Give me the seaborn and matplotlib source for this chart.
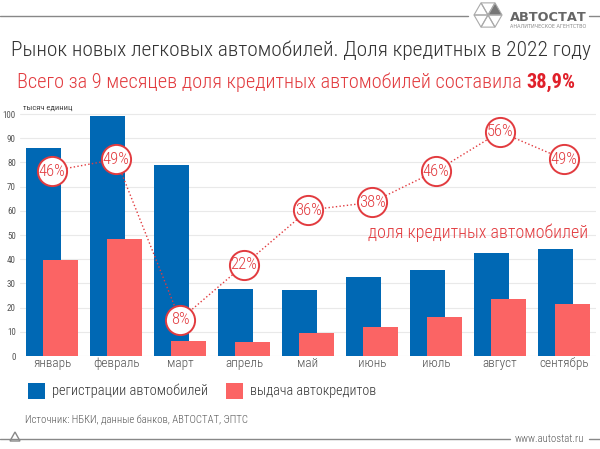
import numpy as np
import pandas as pd
import matplotlib
matplotlib.use("Agg")
import matplotlib.pyplot as plt
from matplotlib import font_manager
from matplotlib.patches import Polygon, Rectangle
import seaborn as sns

months = ["январь", "февраль", "март", "апрель", "май", "июнь", "июль", "август", "сентябрь"]
registrations = [85.8, 99.2, 78.9, 27.8, 27.3, 32.6, 35.4, 42.6, 44.3]
loans = [39.5, 48.5, 6.3, 5.6, 9.6, 12.0, 16.1, 23.7, 21.5]
share_pct = [46, 49, 8, 22, 36, 38, 46, 56, 49]
y_ticks = list(range(0, 101, 10))

BLUE = "#0068b4"
RED_BAR = "#fb6464"
RED = "#e23b3f"
GREY = "#555555"

sns.set_theme(style="white")
names = set(font_manager.get_font_names())
FONT = "Roboto Condensed" if "Roboto Condensed" in names else "Roboto"
plt.rcParams["font.family"] = [FONT, "DejaVu Sans"]

W, H = 600, 449
fig = plt.figure(figsize=(6, 4.49), dpi=100)


def px(x, y):
    return (x / W, 1 - y / H)


ymax = 101
ax = fig.add_axes([20 / W, 1 - 356 / H, 576 / W, 2.42 * ymax / H])

idx = np.arange(len(months))
df = pd.DataFrame({"month": months, "reg": registrations, "loan": loans,
                   "share": share_pct, "i": idx})
df["pos_reg"] = df["i"] - 0.138
df["pos_loan"] = df["i"] + 0.138

sns.barplot(data=df, x="pos_reg", y="reg", native_scale=True, width=0.55,
            color=BLUE, saturation=1, linewidth=0, ax=ax, zorder=2)
sns.barplot(data=df, x="pos_loan", y="loan", native_scale=True, width=0.55,
            color=RED_BAR, saturation=1, linewidth=0, ax=ax, zorder=3)

ax.set_xlim(-0.5, 8.5)
ax.set_ylim(0, ymax)
ax.set_yticks(y_ticks)
ax.set_yticklabels([str(t) for t in y_ticks], fontsize=6.5, color=GREY)
ax.set_xticks(idx)
ax.set_xticklabels(months, fontsize=9.5, color=GREY, fontweight=300)
ax.tick_params(axis="both", length=0, pad=3)
ax.tick_params(axis="x", pad=1)
ax.set_xlabel("")
ax.set_ylabel("")
for s in ax.spines.values():
    s.set_visible(False)
ax.yaxis.grid(True, color="#e9e9e9", linewidth=0.8, zorder=0)
ax.set_axisbelow(True)

# share line on secondary axis
ax2 = ax.twinx()
ax2.set_ylim((0 - 2.06) / 1.617, (ymax - 2.06) / 1.617)
sns.lineplot(data=df, x="i", y="share", ax=ax2, color=RED, linestyle=":",
             linewidth=1.0, marker="o", markersize=21, markerfacecolor="white",
             markeredgecolor=RED, markeredgewidth=1.4, zorder=5)
for i, p in zip(idx, share_pct):
    ax2.text(i, p, f"{p}%", ha="center", va="center", fontsize=12, color=RED,
             fontweight=300, zorder=6)
ax2.set_axis_off()
ax2.set_xlim(-0.5, 8.5)

renderer = fig.canvas.get_renderer()


def fit(t, target):
    w = t.get_window_extent(renderer).width
    t.set_fontsize(t.get_fontsize() * target / w)


t = ax.text(8.37, 51, "доля кредитных автомобилей", ha="right", va="center",
            fontsize=13, color=RED, fontweight=300, zorder=6)
fit(t, 219)

t = fig.text(*px(23, 108), "тысяч единиц", fontsize=5.5, color="#444444",
             ha="left", va="center")
fit(t, 49)

# titles
t = fig.text(*px(11, 50), "Рынок новых легковых автомобилей. Доля кредитных в 2022 году",
             fontsize=18, color="#333333", ha="left", va="center", fontweight=300)
fit(t, 583)
sub = fig.text(*px(17, 82), "Всего за 9 месяцев доля кредитных автомобилей составила ",
               fontsize=15, color=RED, ha="left", va="center", fontweight=300)
bold = fig.text(*px(17, 82), "38,9%", fontsize=15, color="#e0202a",
                fontweight="bold", ha="left", va="center")
w1 = sub.get_window_extent(renderer).width
w2 = bold.get_window_extent(renderer).width
k = 560 / (w1 + w2)
sub.set_fontsize(15 * k)
bold.set_fontsize(15 * k)
w1 = sub.get_window_extent(renderer).width
bold.set_position(px(17 + w1, 82))

# header line and logo
fig.add_artist(plt.Line2D([0, 468 / W], [1 - 16 / H, 1 - 16 / H], color="#888888", lw=1))
fig.add_artist(plt.Line2D([589 / W, 1], [1 - 16 / H, 1 - 16 / H], color="#888888", lw=1))
cx, cy, r = 488, 15, 14
verts = [(cx + r * np.cos(a), cy - r * np.sin(a)) for a in np.deg2rad([0, 60, 120, 180, 240, 300])]
for j in range(6):
    a, b = verts[j], verts[(j + 1) % 6]
    tri = [px(*a), px(*b), px(cx, cy)]
    fc = "#777777" if j == 0 else "none"
    fig.add_artist(Polygon(tri, closed=True, facecolor=fc, edgecolor="#aaaaaa", lw=0.8,
                           transform=fig.transFigure))
t = fig.text(*px(510, 17.5), "АВТОСТАТ", fontsize=10, fontweight="bold", color="#666666",
             ha="left", va="center", family=["DejaVu Sans"])
fit(t, 77)
t = fig.text(*px(510, 27), "АНАЛИТИЧЕСКОЕ АГЕНТСТВО", fontsize=3, color="#888888",
             ha="left", va="center", family=["DejaVu Sans"])
fit(t, 75)

# legend
fig.add_artist(Rectangle(px(28, 399), 17 / W, 16 / H,
                         facecolor=BLUE, edgecolor="none", transform=fig.transFigure))
t = fig.text(*px(52, 391), "регистрации автомобилей", fontsize=11.5, color="#333333",
             ha="left", va="center", fontweight=300)
fit(t, 158)
fig.add_artist(Rectangle(px(226, 399), 17 / W, 16 / H,
                         facecolor=RED_BAR, edgecolor="none", transform=fig.transFigure))
t = fig.text(*px(250, 391), "выдача автокредитов", fontsize=11.5, color="#333333",
             ha="left", va="center", fontweight=300)
fit(t, 127)

t = fig.text(*px(25, 420), "Источник: НБКИ, данные банков, АВТОСТАТ, ЭПТС",
             fontsize=7, color="#555555", ha="left", va="center", fontweight=300)
fit(t, 224)

# footer
fig.add_artist(plt.Line2D([0, 510 / W], [1 - 439 / H, 1 - 439 / H], color="#888888", lw=1))
fig.add_artist(plt.Line2D([589 / W, 1], [1 - 439 / H, 1 - 439 / H], color="#888888", lw=1))
tri = [px(10, 441), px(20, 441), px(15, 432)]
fig.add_artist(Polygon(tri, closed=True, facecolor="white", edgecolor="#888888", lw=1,
                       transform=fig.transFigure))
t = fig.text(*px(515, 439), "www.autostat.ru", fontsize=7, color="#555555",
             ha="left", va="center", fontweight=300)
fit(t, 70)

fig.savefig("out.png", dpi=100)
